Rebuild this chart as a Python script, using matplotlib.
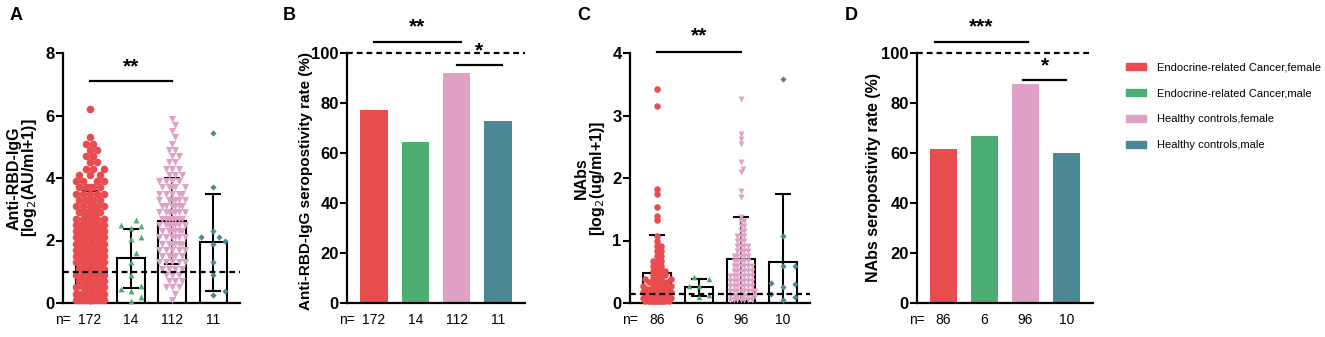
import numpy as np
import matplotlib
matplotlib.use("Agg")
import matplotlib.pyplot as plt
from matplotlib.patches import Patch

plt.rcParams['font.family'] = ['Liberation Sans', 'DejaVu Sans']

# groups / colours
groups = ['Endocrine-related Cancer,female', 'Endocrine-related Cancer,male',
          'Healthy controls,female', 'Healthy controls,male']
colors = ['#E84C4E', '#4CAE72', '#DEA0C4', '#4C8894']

# ---- panel A : anti-RBD-IgG (log2)
igg_red_levels = [0.1, 0.3, 0.5, 0.7, 0.9, 1.1, 1.3, 1.5, 1.7, 1.9, 2.1, 2.3, 2.5, 2.7,
                  2.9, 3.1, 3.3, 3.5, 3.7, 3.9, 4.1, 4.3, 4.5, 4.7, 4.9, 5.1, 5.3, 6.2]
igg_red_counts = [11, 10, 8, 8, 8, 8, 9, 9, 9, 9, 9, 10, 9, 7,
                  7, 6, 5, 5, 5, 4, 3, 3, 2, 2, 2, 2, 1, 1]
igg_green = [2.65, 2.5, 2.45, 2.4, 2.1, 2.05, 1.6, 1.3, 0.9, 0.55, 0.45, 0.4, 0.2, 0.05]
igg_pink_levels = [0.1, 0.3, 0.5, 0.7, 0.9, 1.1, 1.3, 1.5, 1.7, 1.9, 2.1, 2.3, 2.5, 2.7, 2.9,
                   3.1, 3.3, 3.5, 3.7, 3.9, 4.1, 4.3, 4.5, 4.7, 4.9, 5.1, 5.3, 5.5, 5.7, 5.9]
igg_pink_counts = [1, 1, 3, 3, 3, 4, 5, 5, 5, 6, 6, 6, 7, 7, 7,
                   6, 6, 5, 5, 4, 3, 3, 2, 2, 2, 1, 1, 1, 1, 1]
igg_teal = [5.45, 3.7, 2.3, 2.1, 2.1, 2.0, 1.9, 1.3, 0.9, 0.4, 0.25]
igg_mean = [2.12, 1.43, 2.62, 1.95]
igg_sd = [1.45, 0.95, 1.38, 1.55]
igg_n = ['172', '14', '112', '11']

# ---- panel B : anti-RBD-IgG seropositivity (%)
igg_rate = [77.3, 64.3, 92.0, 72.7]

# ---- panel C : NAbs (log2)
nab_red_levels = [0.03, 0.08, 0.13, 0.18, 0.23, 0.28, 0.33, 0.38, 0.45, 0.52, 0.6, 0.68,
                  0.76, 0.84, 0.92, 1.0, 1.08, 1.33, 1.4, 1.53, 1.75, 1.82, 3.15, 3.43]
nab_red_counts = [11, 9, 8, 7, 6, 6, 5, 5, 4, 4, 3, 3,
                  2, 2, 2, 1, 1, 1, 1, 1, 1, 1, 1, 1]
nab_green = [0.39, 0.42, 0.28, 0.28, 0.09, 0.13]
nab_pink_levels = [0.05, 0.12, 0.2, 0.28, 0.36, 0.44, 0.52, 0.6, 0.68, 0.76, 0.84, 0.92, 1.0,
                   1.08, 1.16, 1.24, 1.32, 1.38, 1.7, 1.8, 2.1, 2.15, 2.25, 2.55, 2.62, 2.7, 3.27]
nab_pink_counts = [7, 8, 8, 7, 7, 7, 6, 6, 5, 5, 4, 4, 3,
                   3, 2, 2, 2, 1, 1, 1, 1, 1, 1, 1, 1, 1, 1]
nab_teal = [3.58, 1.08, 0.6, 0.6, 0.32, 0.3, 0.25, 0.15, 0.1, 0.05]
nab_mean = [0.48, 0.25, 0.70, 0.65]
nab_sd = [0.61, 0.14, 0.67, 1.09]
nab_n = ['86', '6', '96', '10']

# ---- panel D : NAbs seropositivity (%)
nab_rate = [61.6, 66.7, 87.5, 60.0]

markers = ['o', '^', 'v', 'D']


def swarm(vals, ymax, diam, halfw=0.34, xpx=41.3, ypx_total=250.0):
    # simple deterministic beeswarm, pixel based
    ypx = ypx_total / ymax
    step = diam * 0.5 / xpx
    cands = [0.0]
    k = 1
    while k * step <= halfw:
        cands += [k * step, -k * step]
        k += 1
    placed = []
    for v in sorted(vals):
        best, bestd = 0.0, -1
        for c in cands:
            d = min([np.hypot((c - px) * xpx, (v - pv) * ypx) for px, pv in placed] or [1e9])
            if d >= diam:
                best = c
                break
            if d > bestd:
                bestd, best = d, c
        placed.append((best, v))
    placed = np.array(placed)
    return placed[:, 0], placed[:, 1]


pos = np.arange(4)
bw = 0.66
xl = (-0.65, 3.65)
bottom, height = 1 - 303 / 337, 250 / 337

fig = plt.figure(figsize=(13.25, 3.37), dpi=100)
axA = fig.add_axes([63 / 1325, bottom, 177 / 1325, height])
axB = fig.add_axes([347 / 1325, bottom, 178 / 1325, height])
axC = fig.add_axes([630 / 1325, bottom, 180 / 1325, height])
axD = fig.add_axes([917 / 1325, bottom, 176 / 1325, height])


def style(ax, ymax, yticks, nlab):
    ax.set_xlim(*xl)
    ax.set_ylim(0, ymax)
    for s in ['top', 'right']:
        ax.spines[s].set_visible(False)
    for s in ['left', 'bottom']:
        ax.spines[s].set_linewidth(1.6)
    ax.set_yticks(yticks)
    ax.tick_params(axis='y', length=5, width=1.5, labelsize=12, pad=1)
    for t in ax.get_yticklabels():
        t.set_fontweight('bold')
    ax.set_xticks(pos, nlab)
    ax.tick_params(axis='x', length=0, labelsize=10, pad=7)
    ax.annotate('n=', xy=(0.0, 0), xycoords='axes fraction', xytext=(0, -7),
                textcoords='offset points', ha='center', va='top', fontsize=10)


def sig(ax, x0, x1, y, ty, txt, fs=15):
    ax.plot([x0, x1], [y, y], color='black', lw=1.6, clip_on=False)
    ax.text((x0 + x1) / 2, ty, txt, ha='center', va='center', fontsize=fs,
            fontweight='bold', clip_on=False)


def scatter_panel(ax, data, means, sds, ymax, sizes, diams):
    ax.bar(pos, means, bw, color='white', edgecolor='black', lw=1.5, zorder=1)
    ax.errorbar(pos, means, yerr=sds, fmt='none', ecolor='black', elinewidth=1.5,
                capsize=6, capthick=1.5, zorder=2)
    for i, vals in enumerate(data):
        dx, vy = swarm(vals, ymax, diams[i])
        ax.scatter(pos[i] + dx, vy, s=sizes[i], marker=markers[i], color=colors[i],
                   linewidths=0, zorder=3, clip_on=False)


# panel A
igg_data = [np.repeat(igg_red_levels, igg_red_counts), igg_green,
            np.repeat(igg_pink_levels, igg_pink_counts), igg_teal]
scatter_panel(axA, igg_data, igg_mean, igg_sd, 8, [30, 18, 26, 10], [7.0, 10.0, 6.5, 12.0])
axA.axhline(1.0, color='black', lw=1.6, ls=(0, (2.6, 1.8)), zorder=4)
style(axA, 8, [0, 2, 4, 6, 8], igg_n)
axA.set_ylabel('Anti-RBD-IgG\n[log$_2$(AU/ml+1)]', fontsize=11.5, fontweight='bold',
               linespacing=0.95)
axA.yaxis.set_label_coords(-0.133, 0.5)
sig(axA, 0, 2, 7.1, 7.55, '**')

# panel B
axB.bar(pos, igg_rate, bw, color=colors, zorder=1)
axB.axhline(100, color='black', lw=1.6, ls=(0, (2.6, 1.8)), clip_on=False)
style(axB, 100, [0, 20, 40, 60, 80, 100], igg_n)
axB.set_ylabel('Anti-RBD-IgG seropostivity rate (%)', fontsize=11, fontweight='bold')
axB.yaxis.set_label_coords(-0.19, 0.49)
sig(axB, 0, 2.1, 104.4, 110.6, '**')
sig(axB, 2.0, 3.1, 95.2, 100.8, '*')

# panel C
nab_data = [np.repeat(nab_red_levels, nab_red_counts), nab_green,
            np.repeat(nab_pink_levels, nab_pink_counts), nab_teal]
scatter_panel(axC, nab_data, nab_mean, nab_sd, 4, [22, 16, 18, 10], [4.0, 10.0, 3.5, 12.0])
axC.axhline(0.15, color='black', lw=1.6, ls=(0, (2.6, 1.8)), zorder=4)
style(axC, 4, [0, 1, 2, 3, 4], nab_n)
axC.set_ylabel('NAbs\n[log$_2$(ug/ml+1)]', fontsize=11.5, fontweight='bold',
               linespacing=0.95)
axC.yaxis.set_label_coords(-0.128, 0.5)
sig(axC, 0, 2, 4.02, 4.27, '**')

# panel D
axD.bar(pos, nab_rate, bw, color=colors, zorder=1)
axD.axhline(100, color='black', lw=1.6, ls=(0, (2.6, 1.8)), clip_on=False)
style(axD, 100, [0, 20, 40, 60, 80, 100], nab_n)
axD.set_ylabel('NAbs seropostivity rate (%)', fontsize=11.5, fontweight='bold')
axD.yaxis.set_label_coords(-0.204, 0.5)
sig(axD, -0.2, 2.05, 104.4, 110.6, '***')
sig(axD, 1.95, 3.0, 89.2, 95.0, '*')

# panel letters
for lab, x in zip('ABCD', [10, 283, 577, 845]):
    fig.text(x / 1325, 1 - 15 / 337, lab, fontsize=13, fontweight='bold', ha='left', va='center')

handles = [Patch(color=c, label=g) for c, g in zip(colors, groups)]
fig.legend(handles=handles, loc='upper left', bbox_to_anchor=(1116 / 1325, 1 - 52 / 337),
           frameon=False, fontsize=8, handlelength=1.8, handleheight=0.6,
           handletextpad=1.0, labelspacing=1.45)

fig.savefig('out.png', dpi=100)
